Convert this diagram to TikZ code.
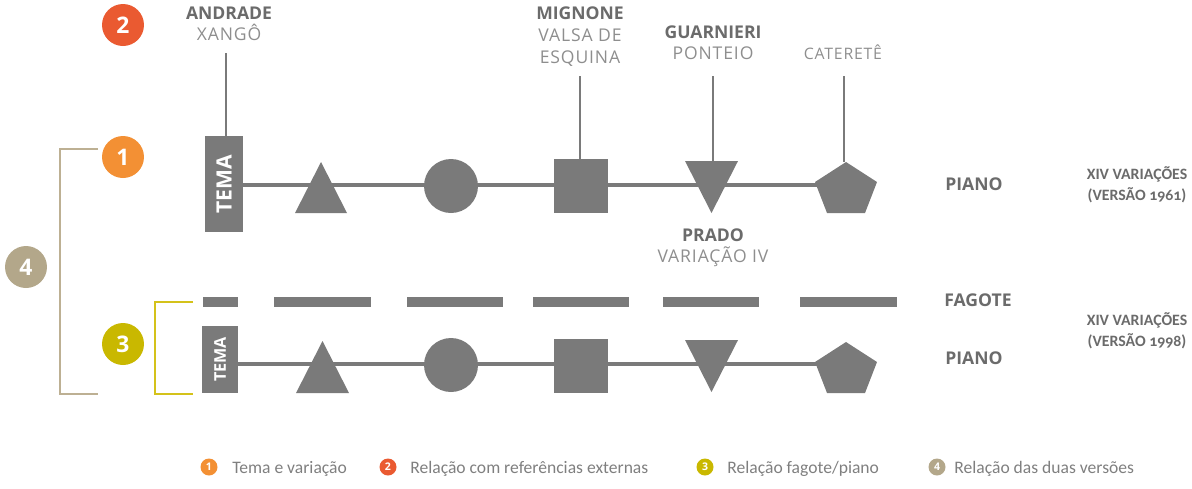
\documentclass[tikz,border=0pt]{standalone}
\usepackage{fontspec}
\setmainfont{Open Sans}
\newfontfamily\labsp[LetterSpace=5]{Open Sans}
\newfontfamily\leg[Numbers=OldStyle]{Carlito}
\usetikzlibrary{shapes.geometric,backgrounds}
\definecolor{shp}{HTML}{7A7A7A}
\definecolor{labgray}{HTML}{6B6B6B}
\definecolor{subgray}{HTML}{8E8E8E}
\definecolor{leggray}{HTML}{7F7F7F}
\definecolor{cone}{HTML}{F39034}
\definecolor{ctwo}{HTML}{EA5A31}
\definecolor{cthree}{HTML}{C9B800}
\definecolor{cfour}{HTML}{B3A78A}
\definecolor{brfour}{HTML}{BDB093}
\definecolor{brthree}{HTML}{D4C21A}
\tikzset{
  shapefill/.style={fill=shp, draw=none},
  numc/.style={circle, minimum size=0.84cm, inner sep=0, text=white, font=\bfseries\fontsize{13}{13}\selectfont},
  labb/.style={anchor=base, inner sep=0, text=labgray, font=\bfseries\fontsize{10}{12}\selectfont},
  labs/.style={anchor=base, inner sep=0, text=subgray, font=\labsp\fontsize{10}{12}\selectfont},
  conn/.style={draw=shp, line width=1.6pt},
  mainline/.style={draw=shp, line width=1.9pt},
  temabox/.style={shapefill, rectangle, inner sep=0},
  tematext/.style={rotate=90, inner sep=0, text=white, font=\bfseries\fontsize{12}{12}\selectfont},
  instr/.style={anchor=base, inner sep=0, text=labgray, font=\bfseries\fontsize{10}{12}\selectfont},
  vers/.style={anchor=base, inner sep=0, text=labgray, font=\leg\bfseries\fontsize{9}{11}\selectfont},
  roundshape/.style={shapefill, circle, minimum size=1.08cm, inner sep=0},
  sqshape/.style={shapefill, rectangle, minimum size=1.08cm, inner sep=0},
  dashbar/.style={fill=shp, draw=none},
  bracket/.style={line width=1.6pt},
  legc/.style={circle, minimum size=0.34cm, inner sep=0, text=white, font=\bfseries\fontsize{6}{6}\selectfont},
  legt/.style={anchor=base west, inner sep=0, text=leggray, font=\leg\fontsize{10}{12}\selectfont},
}
\begin{document}
\begin{tikzpicture}[x=0.02cm, y=-0.02cm]
\useasboundingbox (0,0) rectangle (1192,488);

% ---------- number circles ----------
\node[numc, fill=ctwo] (n2) at (123,25) {2};
\node[numc, fill=cone] (n1) at (123,157) {1};
\node[numc, fill=cfour] (n4) at (26,267) {4};
\node[numc, fill=cthree] (n3) at (123,344) {3};

% ---------- brackets ----------
\coordinate (b4a) at (98,149);
\coordinate (b4b) at (98,394);
\draw[bracket, draw=brfour] (b4a) -- (60,149) -- (60,394) -- (b4b);
\coordinate (b3a) at (193,302);
\coordinate (b3b) at (193,394);
\draw[bracket, draw=brthree] (b3a) -- (155,302) -- (155,394) -- (b3b);

% ---------- top labels ----------
\node[labb] (andA) at (229,19) {ANDRADE};
\node[labs] (andB) at (229,40) {XANGÔ};
\node[labb] (migA) at (580,19) {MIGNONE};
\node[labs] (migB) at (580,41) {VALSA DE};
\node[labs] (migC) at (580,63) {ESQUINA};
\node[labb] (guaA) at (713,38) {GUARNIERI};
\node[labs] (guaB) at (713,59) {PONTEIO};
\node[labs, font=\labsp\fontsize{9}{11}\selectfont] (cat) at (843,59) {CATERETÊ};
\node[labb] (praA) at (713,241) {PRADO};
\node[labs] (praB) at (713,262) {VARIAÇÃO IV};

% ---------- row 1 (piano 1961) ----------
\node[temabox, minimum width=0.76cm, minimum height=1.92cm] (tema1) at (224,184) {};
\node[tematext] (tema1t) at (tema1) {TEMA};
\fill[shapefill] (321,162) -- (347,213) -- (295,213) -- cycle;
\coordinate (tri1) at (321,187);
\node[roundshape] (circ1) at (451,186) {};
\node[sqshape] (sq1) at (581,186) {};
\fill[shapefill] (685,161) -- (738,161) -- (711.5,213) -- cycle;
\coordinate (inv1top) at (713,161);
\fill[shapefill] (846,162) -- (877,182) -- (865,213) -- (827,213) -- (815,182) -- cycle;
\coordinate (pent1top) at (846,162);
\coordinate (pent1) at (846,185);

% connectors from labels
\coordinate (andT) at (226,53);
\coordinate (migT) at (580,76);
\coordinate (guaT) at (713,76);
\coordinate (catT) at (844,76);
\draw[conn] (andT) -- (andT |- tema1.north);
\draw[conn] (migT) -- (migT |- sq1.north);
\draw[conn] (guaT) -- (inv1top);
\draw[conn] (catT) -- (catT |- pent1top);

\node[instr] (pianoA) at (974,190) {PIANO};
\node[vers] (v1a) at (1137,179) {XIV VARIAÇÕES};
\node[vers] (v1b) at (1137,200) {(VERSÃO 1961)};

% ---------- fagote ----------
\fill[dashbar] (203,297) rectangle (238,307);
\fill[dashbar] (274,297) rectangle (371,307);
\fill[dashbar] (407,297) rectangle (503,307);
\fill[dashbar] (533,297) rectangle (629,307);
\fill[dashbar] (663,297) rectangle (759,307);
\fill[dashbar] (800,297) rectangle (897,307);
\node[instr] (fag) at (978,306) {FAGOTE};
\node[vers] (v2a) at (1137,325) {XIV VARIAÇÕES};
\node[vers] (v2b) at (1137,346) {(VERSÃO 1998)};

% ---------- row 2 (piano 1998) ----------
\node[temabox, minimum width=0.72cm, minimum height=1.34cm] (tema2) at (220,359.5) {};
\node[tematext, font=\bfseries\fontsize{9.2}{9.2}\selectfont] (tema2t) at (tema2) {TEMA};
\fill[shapefill] (322.5,341) -- (349,393) -- (296,393) -- cycle;
\node[roundshape] (circ2) at (451,365) {};
\node[sqshape] (sq2) at (581,366) {};
\fill[shapefill] (685,340) -- (738,340) -- (711.5,392) -- cycle;
\fill[shapefill] (846,342) -- (877,362) -- (865,393) -- (827,393) -- (815,362) -- cycle;
\coordinate (pent2) at (846,364);
\node[instr] (pianoB) at (974,364) {PIANO};

% ---------- main lines (behind) ----------
\begin{scope}[on background layer]
\draw[mainline] (tema1.east |- pent1) -- (pent1);
\draw[mainline] (tema2.east |- pent2) -- (pent2);
\end{scope}

% ---------- legend ----------
\node[legc, fill=cone] (l1) at (209,467) {1};
\node[legt] (l1t) at (232,473) {Tema e variação};
\node[legc, fill=ctwo] (l2) at (388,467) {2};
\node[legt] (l2t) at (410,473) {Relação com referências externas};
\node[legc, fill=cthree] (l3) at (705,467) {3};
\node[legt] (l3t) at (727,473) {Relação fagote/piano};
\node[legc, fill=cfour] (l4) at (937,467) {4};
\node[legt] (l4t) at (954,473) {Relação das duas versões};
\end{tikzpicture}
\end{document}
